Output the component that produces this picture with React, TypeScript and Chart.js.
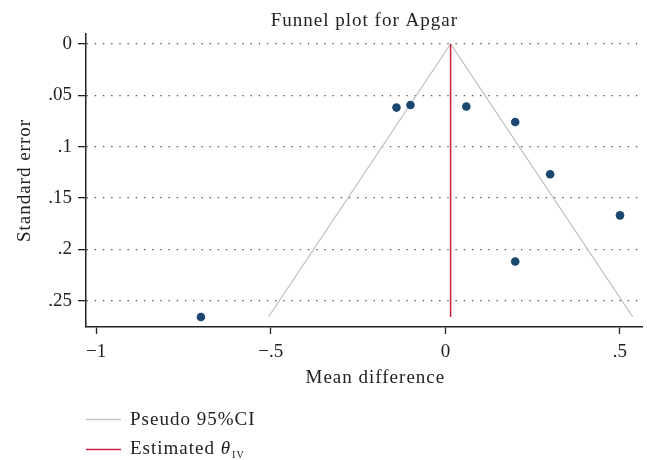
import { useEffect, useRef } from "react";
import { Chart, registerables } from "chart.js";

Chart.register(...registerables);

// Study-level mean differences and their standard errors
const studyEffects = [-0.14, -0.1, 0.06, 0.2, 0.3, 0.5, 0.2, -0.7];
const studyStdErrors = [0.062, 0.0595, 0.061, 0.076, 0.127, 0.167, 0.212, 0.266];

// Inverse-variance pooled estimate
const pooledEffect = 0.015;

const xTickValues = [-1, -0.5, 0, 0.5];
const xTickLabels = ["\u22121", "\u2212.5", "0", ".5"];
const yTickValues = [0, 0.05, 0.1, 0.15, 0.2, 0.25];
const yTickLabels = ["0", ".05", ".1", ".15", ".2", ".25"];

const chartTitle = "Funnel plot for Apgar";
const xTitle = "Mean difference";
const yTitle = "Standard error";
const ciLabel = "Pseudo 95%CI";
const estLabel = "Estimated ";
const estSymbol = "\u03b8";
const estSubscript = "IV";

const FONT = "'Liberation Serif', 'DejaVu Serif', serif";
const TEXT = "#222222";
const DOT = "#1a476f";
const RED = "#d0213a";
const GRAY = "#c4c4c4";

const annotations = {
  id: "annotations",
  afterDraw(chart: any) {
    const { ctx, chartArea } = chart;
    const cx = (chartArea.left + chartArea.right) / 2;
    const cy = (chartArea.top + chartArea.bottom) / 2;
    ctx.save();
    ctx.fillStyle = TEXT;
    ctx.textBaseline = "alphabetic";
    ctx.font = `19px ${FONT}`;
    ctx.letterSpacing = "1px";

    ctx.textAlign = "center";
    ctx.fillText(chartTitle, cx, 26);
    ctx.fillText(xTitle, cx + 11, 383);

    ctx.save();
    ctx.translate(30, cy);
    ctx.rotate(-Math.PI / 2);
    ctx.fillText(yTitle, 0, 0);
    ctx.restore();

    // legend
    ctx.textAlign = "left";
    ctx.lineWidth = 1.5;
    ctx.strokeStyle = GRAY;
    ctx.beginPath();
    ctx.moveTo(86, 419.5);
    ctx.lineTo(121, 419.5);
    ctx.stroke();
    ctx.fillText(ciLabel, 130, 425);

    ctx.strokeStyle = RED;
    ctx.beginPath();
    ctx.moveTo(86, 449.5);
    ctx.lineTo(121, 449.5);
    ctx.stroke();
    ctx.fillText(estLabel, 130, 454);
    let x = 130 + ctx.measureText(estLabel).width;
    ctx.font = `italic 19px ${FONT}`;
    ctx.fillText(estSymbol, x, 454);
    x += ctx.measureText(estSymbol).width + 1;
    ctx.font = `10px ${FONT}`;
    ctx.fillText(estSubscript, x, 458);
    ctx.restore();
  },
};

export default function App() {
  const ref = useRef<HTMLCanvasElement | null>(null);

  useEffect(() => {
    if (!ref.current) return;
    const seMax = Math.max(...studyStdErrors);
    const funnel = [
      { x: pooledEffect - 1.96 * seMax, y: seMax },
      { x: pooledEffect, y: 0 },
      { x: pooledEffect + 1.96 * seMax, y: seMax },
    ];
    const estimate = [
      { x: pooledEffect, y: 0 },
      { x: pooledEffect, y: seMax },
    ];
    const studies = studyEffects.map((v, i) => ({ x: v, y: studyStdErrors[i] }));

    const chart = new Chart(ref.current, {
      type: "scatter",
      data: {
        datasets: [
          {
            type: "line",
            data: funnel,
            borderColor: GRAY,
            borderWidth: 1.3,
            pointRadius: 0,
            fill: false,
            order: 3,
          },
          {
            type: "line",
            data: estimate,
            borderColor: RED,
            borderWidth: 1.5,
            pointRadius: 0,
            fill: false,
            order: 2,
          },
          {
            data: studies,
            backgroundColor: DOT,
            borderColor: DOT,
            pointRadius: 4.3,
            borderWidth: 0,
            order: 1,
          },
        ],
      },
      options: {
        responsive: false,
        animation: false,
        layout: { padding: { top: 34, right: 2, bottom: 0, left: 0 } },
        plugins: {
          legend: { display: false },
          title: { display: false },
          tooltip: { enabled: false },
        },
        scales: {
          x: {
            type: "linear",
            min: -1.029,
            max: 0.565,
            afterBuildTicks: (s: any) => {
              s.ticks = xTickValues.map((v) => ({ value: v }));
            },
            afterFit: (s: any) => {
              s.height = 133;
            },
            ticks: {
              color: TEXT,
              font: { family: FONT, size: 19 },
              padding: 7,
              maxRotation: 0,
              callback: (v: any) => {
                const i = xTickValues.indexOf(Number(v));
                return i >= 0 ? xTickLabels[i] : "";
              },
            },
            grid: {
              drawOnChartArea: false,
              drawTicks: true,
              tickLength: 7,
              tickColor: TEXT,
              tickWidth: 1.3,
            },
            border: { display: true, color: TEXT, width: 1.5 },
          },
          y: {
            type: "linear",
            reverse: true,
            min: -0.0097,
            max: 0.2758,
            afterBuildTicks: (s: any) => {
              s.ticks = yTickValues.map((v) => ({ value: v }));
            },
            afterFit: (s: any) => {
              s.width = 86;
            },
            ticks: {
              color: TEXT,
              font: { family: FONT, size: 19 },
              padding: 6,
              callback: (v: any) => {
                const i = yTickValues.findIndex((t) => Math.abs(t - Number(v)) < 1e-9);
                return i >= 0 ? yTickLabels[i] : "";
              },
            },
            grid: {
              color: "#555555",
              lineWidth: 1.3,
              drawTicks: true,
              tickLength: 8,
              tickColor: TEXT,
              tickWidth: 1.3,
              tickBorderDash: [],
            },
            border: { display: true, color: TEXT, width: 1.5, dash: [1.4, 6.8] },
          },
        },
      },
      plugins: [annotations],
    });
    return () => chart.destroy();
  }, []);

  return (
    <div
      style={{
        position: "fixed",
        left: 0,
        top: 0,
        width: 647,
        height: 460,
        background: "#ffffff",
      }}
    >
      <canvas ref={ref} width={647} height={460} />
    </div>
  );
}
